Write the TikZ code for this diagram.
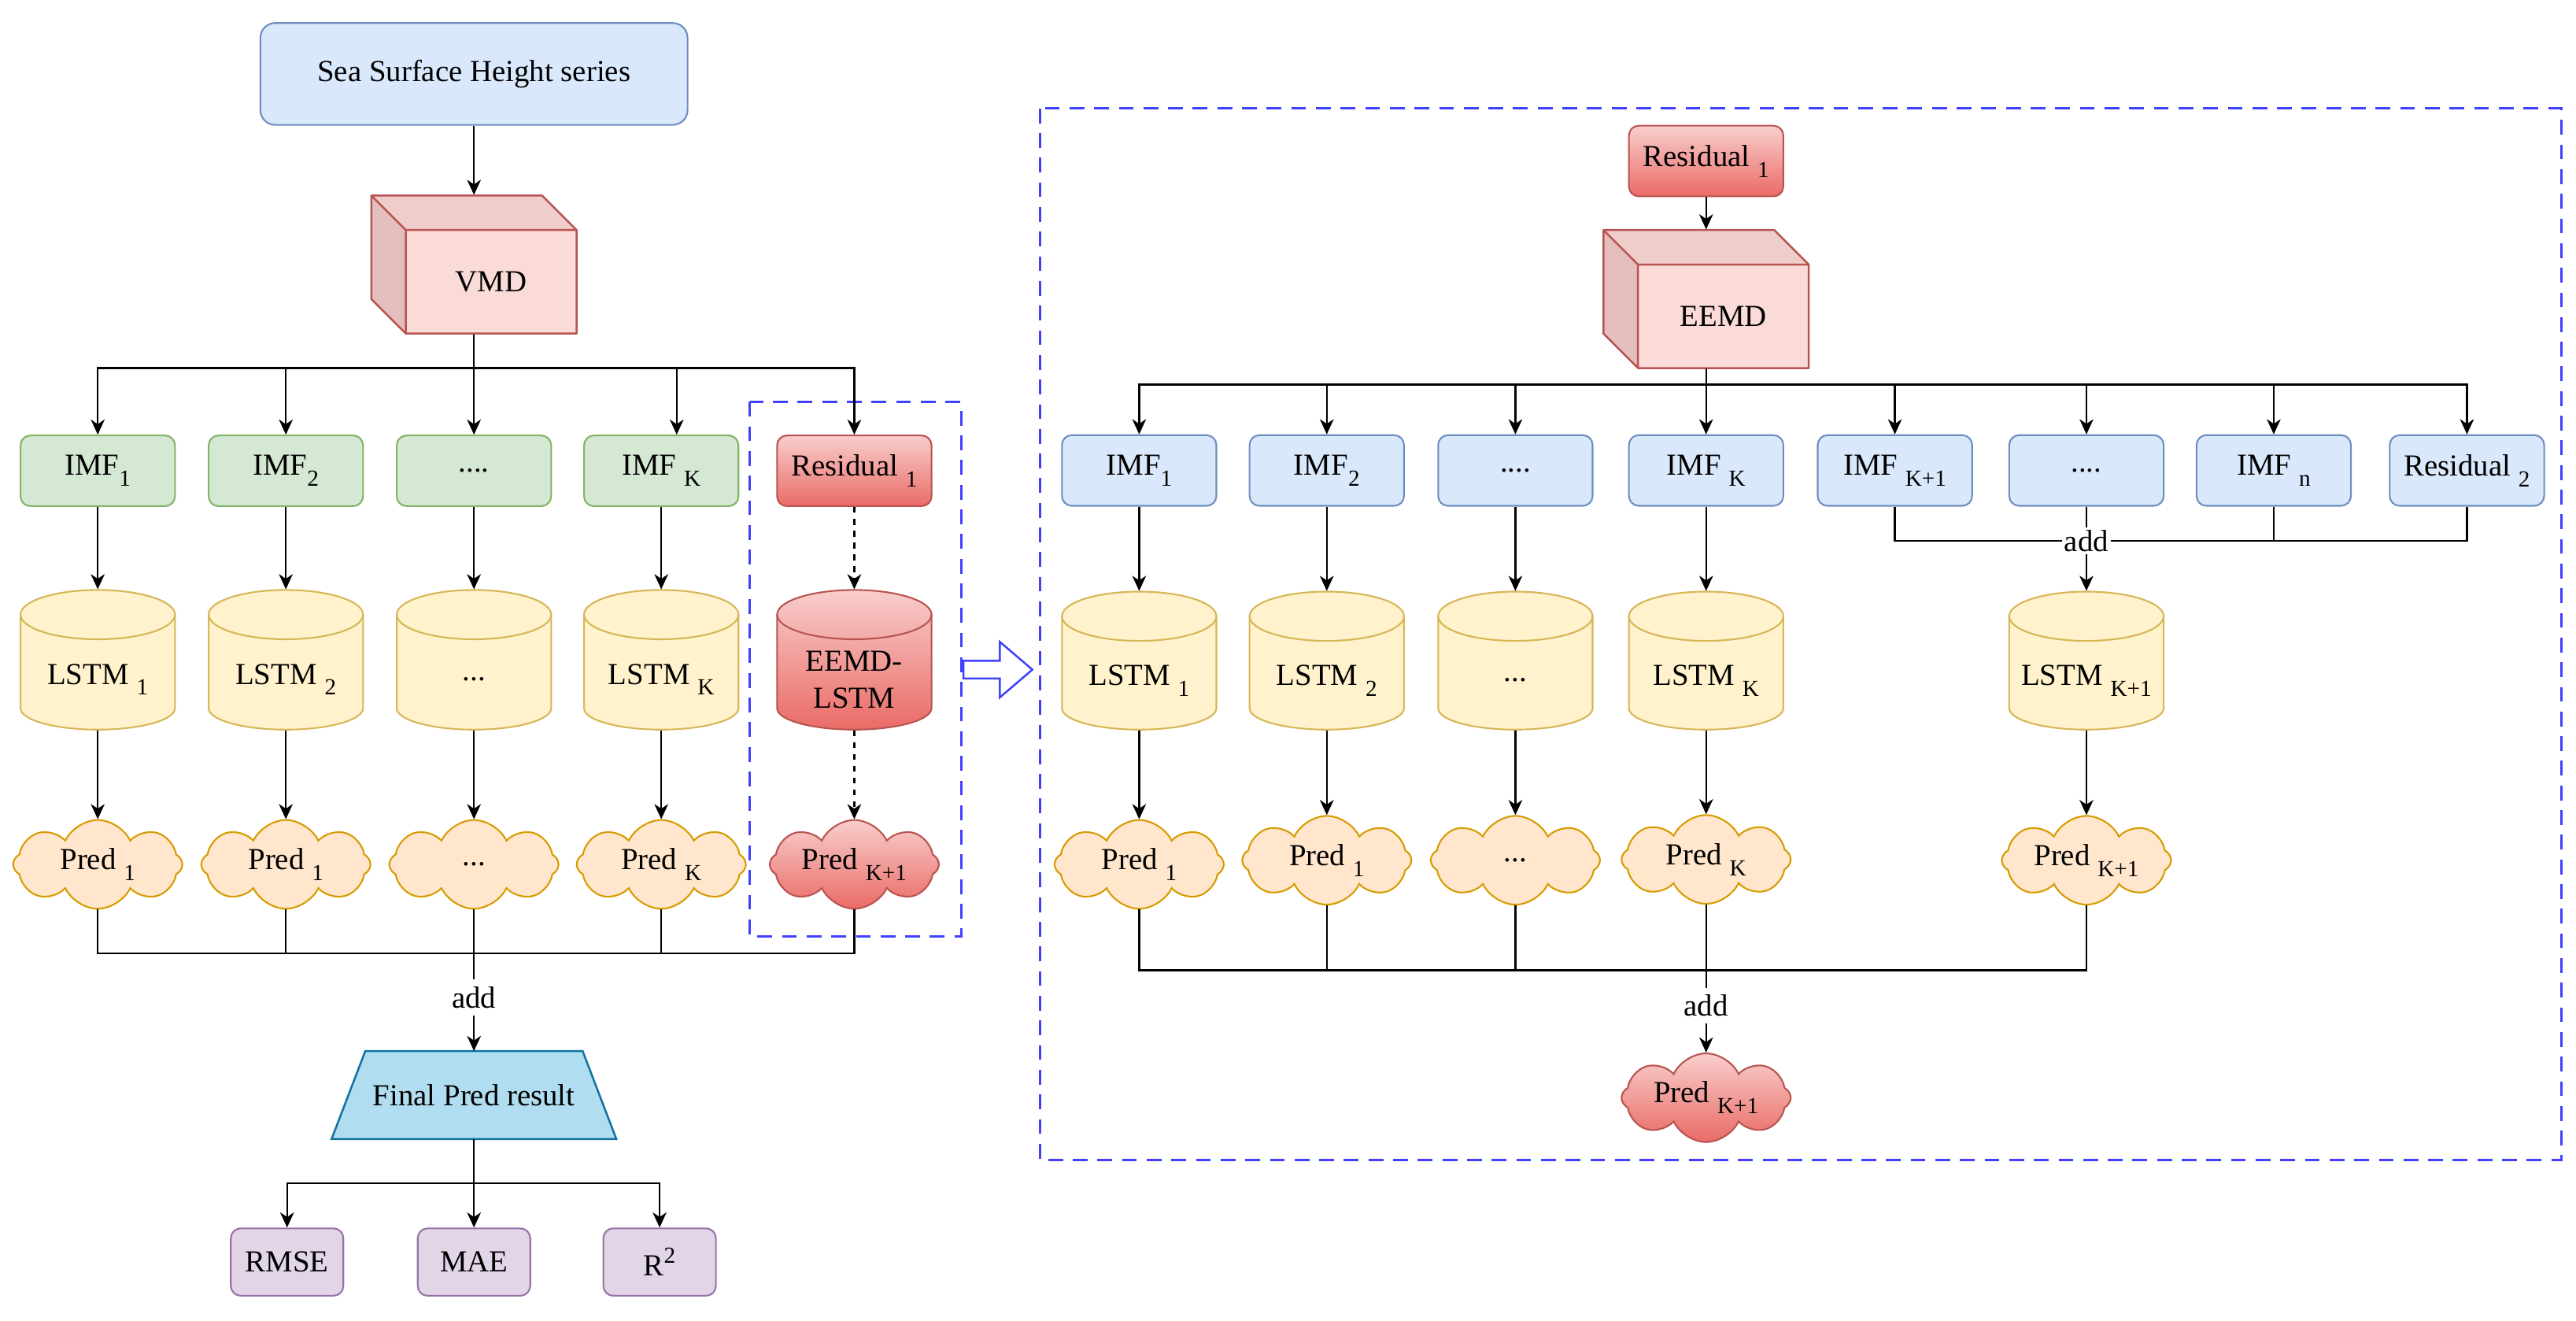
\documentclass[tikz,border=0pt]{standalone}
\usepackage{fontspec}
\setmainfont{Liberation Serif}
\usetikzlibrary{shapes.symbols,shapes.arrows,arrows.meta}
\definecolor{bF}{HTML}{DAE8FC}\definecolor{bS}{HTML}{6C8EBF}
\definecolor{gF}{HTML}{D5E8D4}\definecolor{gS}{HTML}{82B366}
\definecolor{rT}{HTML}{F8CECC}\definecolor{rB}{HTML}{EA6B66}\definecolor{rS}{HTML}{B85450}
\definecolor{yF}{HTML}{FFF2CC}\definecolor{yS}{HTML}{D6B656}
\definecolor{oF}{HTML}{FFE6CC}\definecolor{oS}{HTML}{D79B00}
\definecolor{tF}{HTML}{B1DDF0}\definecolor{tS}{HTML}{10739E}
\definecolor{pF}{HTML}{E1D5E7}\definecolor{pS}{HTML}{9673A6}
\definecolor{dC}{HTML}{4040FF}
\definecolor{cubeF}{HTML}{FADBD8}\definecolor{cubeT}{HTML}{EFCDCB}\definecolor{cubeL}{HTML}{E3BEBC}

\newcommand{\subx}[1]{\raisebox{-0.36em}{\fontsize{7}{8}\selectfont #1}}
\newcommand{\supx}[1]{\raisebox{0.42em}{\fontsize{7}{8}\selectfont #1}}

% name, cx, top, bottom, body style, stroke colour, text
\newcommand{\mycyl}[7]{%
  \path[#5] (#2-47,#3+15) -- (#2-47,#4-13)
     arc[start angle=180,end angle=360,x radius=23.5pt,y radius=6.5pt]
     -- (#2+47,#3+15)
     arc[start angle=0,end angle=180,x radius=23.5pt,y radius=7.5pt] -- cycle;
  \draw[#6,line width=0.5pt] (#2-47,#3+15) arc[start angle=180,end angle=360,x radius=23.5pt,y radius=7.5pt];
  \node[inner sep=0,minimum width=47pt,minimum height={(#4-#3)*0.5pt}] (#1) at (#2,{(#3+#4)/2}) {};
  \node[txt] (#1t) at (#2,{(#3+#4)/2+12}) {#7};
}
% name, x1, y1, x2, y2, text
\newcommand{\mycube}[6]{%
  \fill[cubeT] (#2,#3) -- (#4-21,#3) -- (#4,#3+21) -- (#2+21,#3+21) -- cycle;
  \fill[cubeL] (#2,#3) -- (#2+21,#3+21) -- (#2+21,#5) -- (#2,#5-21) -- cycle;
  \fill[cubeF] (#2+21,#3+21) rectangle (#4,#5);
  \draw[rS,line width=0.6pt,line join=round] (#2,#3) -- (#4-21,#3) -- (#4,#3+21) -- (#4,#5) -- (#2+21,#5) -- (#2,#5-21) -- cycle
     (#2,#3) -- (#2+21,#3+21) -- (#4,#3+21) (#2+21,#3+21) -- (#2+21,#5);
  \node[inner sep=0,minimum width={(#4-#2)*0.5pt},minimum height={(#5-#3)*0.5pt}] (#1) at ({(#2+#4)/2},{(#3+#5)/2}) {};
  \node[txt] (#1t) at ({(#2+#4+21)/2},{(#3+#5+21)/2}) {#6};
}

\begin{document}
\begin{tikzpicture}[x=0.5pt,y=-0.5pt,
  txt/.style={font=\fontsize{9.3}{11.3}\selectfont, inner sep=0, align=center},
  box/.style={rectangle, rounded corners=3pt, line width=0.5pt, minimum width=47pt, minimum height=21.5pt, inner sep=0, font=\fontsize{9.3}{11.3}\selectfont},
  gbox/.style={box, fill=gF, draw=gS},
  bbox/.style={box, fill=bF, draw=bS},
  rbox/.style={box, draw=rS, top color=rT, bottom color=rB},
  pbox/.style={box, fill=pF, draw=pS, minimum width=34.25pt, minimum height=20.5pt},
  cylY/.style={fill=yF, draw=yS, line width=0.5pt},
  cylR/.style={draw=rS, top color=rT, bottom color=rB, line width=0.5pt},
  cl/.style={cloud, cloud puffs=8, cloud puff arc=130, cloud ignores aspect, minimum width=51.5pt, minimum height=27pt, inner sep=0, line width=0.5pt, font=\fontsize{9.3}{11.3}\selectfont},
  ocl/.style={cl, fill=oF, draw=oS},
  rcl/.style={cl, draw=rS, top color=rT, bottom color=rB},
  arr/.style={line width=0.55pt, -{Stealth[length=4.6pt,width=4.2pt,inset=1.4pt]}},
  con/.style={line width=0.55pt},
  dsh/.style={dash pattern=on 1.8pt off 1.8pt},
  dbox/.style={draw=dC, line width=0.7pt, dash pattern=on 4.5pt off 3pt},
  addn/.style={txt, inner sep=2pt}]
\useasboundingbox (0,0) rectangle (1568,803.4);

% ---------------- left part ----------------
\draw[dbox] (456.5,244.5) rectangle (585,570);
\node[bbox, minimum width=130pt, minimum height=31pt, rounded corners=4.5pt] (ssh) at (288.5,45) {Sea Surface Height series};
\mycube{vmd}{226}{119}{351}{203}{VMD}
\draw[arr] (ssh.south) -- (vmd.north);

\node[gbox] (i1) at (59.5,286.5) {IMF\subx{1}};
\node[gbox] (i2) at (174,286.5) {IMF\subx{2}};
\node[gbox] (i3) at (288.5,286.5) {....};
\node[gbox] (i4) at (402.5,286.5) {IMF \subx{K}};
\node[rbox] (i5) at (520,286.5) {Residual \subx{1}};

\coordinate (vb) at (288.5,224);
\draw[con] (vmd.south) -- (vb);
\draw[arr] (vb) -| (i1.north);
\draw[arr] (vb) -| (i2.north);
\draw[arr] (vb) -- (i3.north);
\draw[arr] (vb) -| ([xshift=4.7pt]i4.north);
\draw[arr] (vb) -| (i5.north);

\mycyl{c1}{59.5}{359}{444}{cylY}{yS}{LSTM \subx{1}}
\mycyl{c2}{174}{359}{444}{cylY}{yS}{LSTM \subx{2}}
\mycyl{c3}{288.5}{359}{444}{cylY}{yS}{...}
\mycyl{c4}{402.5}{359}{444}{cylY}{yS}{LSTM \subx{K}}
\mycyl{c5}{520}{359}{444}{cylR}{rS}{EEMD-\\LSTM}

\draw[arr] (i1.south) -- (c1.north);
\draw[arr] (i2.south) -- (c2.north);
\draw[arr] (i3.south) -- (c3.north);
\draw[arr] (i4.south) -- (c4.north);
\draw[arr,dsh] (i5.south) -- (c5.north);

\node[ocl] (p1) at (59.5,526) {Pred \subx{1}};
\node[ocl] (p2) at (174,526) {Pred \subx{1}};
\node[ocl] (p3) at (288.5,526) {...};
\node[ocl] (p4) at (402.5,526) {Pred \subx{K}};
\node[rcl] (p5) at (520,526) {Pred \subx{K+1}};

\draw[arr] (c1.south) -- (p1.north);
\draw[arr] (c2.south) -- (p2.north);
\draw[arr] (c3.south) -- (p3.north);
\draw[arr] (c4.south) -- (p4.north);
\draw[arr,dsh] (c5.south) -- (p5.north);

\coordinate (lb) at (288.5,580);
\draw[con] (p1.south) |- (lb);
\draw[con] (p2.south) |- (lb);
\draw[con] (p3.south) -- (lb);
\draw[con] (p4.south) |- (lb);
\draw[con] (p5.south) |- (lb);
\node[addn] (addL) at (288.5,607) {add};
\draw[con] (lb) -- (addL.north);

\node[inner sep=0, minimum width=86.25pt, minimum height=26.35pt] (final) at (288.5,666.35) {};
\draw[fill=tF, draw=tS, line width=0.6pt] ([xshift=10.25pt]final.north west) -- ([xshift=-10.25pt]final.north east) -- (final.south east) -- (final.south west) -- cycle;
\node[txt] (finalt) at (final) {Final Pred result};
\draw[arr] (addL.south) -- (final.north);

\node[pbox] (m1) at (174.75,768) {RMSE};
\node[pbox] (m2) at (288.5,768) {MAE};
\node[pbox] (m3) at (401.5,768) {R\supx{2}};
\coordinate (mb) at (288.5,720);
\draw[con] (final.south) -- (mb);
\draw[arr] (mb) -| (m1.north);
\draw[arr] (mb) -- (m2.north);
\draw[arr] (mb) -| (m3.north);

% block arrow
\node[single arrow, draw=dC, fill=white, line width=0.6pt, minimum height=21pt, inner xsep=0pt, inner ysep=2.4pt, single arrow head extend=5.75pt, single arrow tip angle=81, anchor=tail] (blk) at (585.8,407.5) {};

% ---------------- right part ----------------
\draw[dbox] (633,66) rectangle (1559,706);
\node[rbox] (rr1) at (1038.5,98) {Residual \subx{1}};
\mycube{eemd}{976}{140}{1101}{224}{EEMD}
\draw[arr] (rr1.south) -- (eemd.north);

\node[bbox] (ri1) at (693.4,286.3) {IMF\subx{1}};
\node[bbox] (ri2) at (807.6,286.3) {IMF\subx{2}};
\node[bbox] (ri3) at (922.4,286.3) {....};
\node[bbox] (ri4) at (1038.5,286.3) {IMF \subx{K}};
\node[bbox] (ri5) at (1153.4,286.3) {IMF \subx{K+1}};
\node[bbox] (ri6) at (1270,286.3) {....};
\node[bbox] (ri7) at (1384,286.3) {IMF \subx{n}};
\node[bbox] (ri8) at (1501.6,286.3) {Residual \subx{2}};

\coordinate (rb) at (1038.5,234);
\draw[con] (eemd.south) -- (rb);
\foreach \k in {1,2,3,5,6,7,8} {\draw[arr] (rb) -| (ri\k.north);}
\draw[arr] (rb) -- (ri4.north);

\mycyl{rc1}{693.4}{360}{444}{cylY}{yS}{LSTM \subx{1}}
\mycyl{rc2}{807.6}{360}{444}{cylY}{yS}{LSTM \subx{2}}
\mycyl{rc3}{922.4}{360}{444}{cylY}{yS}{...}
\mycyl{rc4}{1038.5}{360}{444}{cylY}{yS}{LSTM \subx{K}}
\mycyl{rc5}{1270}{360}{444}{cylY}{yS}{LSTM \subx{K+1}}

\foreach \k in {1,2,3,4} {\draw[arr] (ri\k.south) -- (rc\k.north);}

\node[txt, inner sep=0.6pt] (addR1) at (1270,329) {add};
\draw[con] (ri5.south) |- (addR1);
\draw[con] (ri7.south) |- (addR1);
\draw[con] (ri8.south) |- (addR1);
\draw[con] (ri6.south) -- (addR1);
\draw[arr] (addR1) -- (rc5.north);

\node[ocl] (rp1) at (693.4,526) {Pred \subx{1}};
\node[ocl] (rp2) at (807.6,523.5) {Pred \subx{1}};
\node[ocl] (rp3) at (922.4,523.5) {...};
\node[ocl] (rp4) at (1038.5,523) {Pred \subx{K}};
\node[ocl] (rp5) at (1270,523.5) {Pred \subx{K+1}};
\foreach \k in {1,2,3,4,5} {\draw[arr] (rc\k.south) -- (rp\k.north);}

\coordinate (rbb) at (1038.5,590.5);
\draw[con] (rp1.south) |- (rbb);
\draw[con] (rp2.south) |- (rbb);
\draw[con] (rp3.south) |- (rbb);
\draw[con] (rp4.south) -- (rbb);
\draw[con] (rp5.south) |- (rbb);
\node[addn] (addR2) at (1038.5,612) {add};
\draw[con] (rbb) -- (addR2.north);
\node[rcl] (rpf) at (1038.5,668) {Pred \subx{K+1}};
\draw[arr] (addR2.south) -- (rpf.north);
\end{tikzpicture}
\end{document}
